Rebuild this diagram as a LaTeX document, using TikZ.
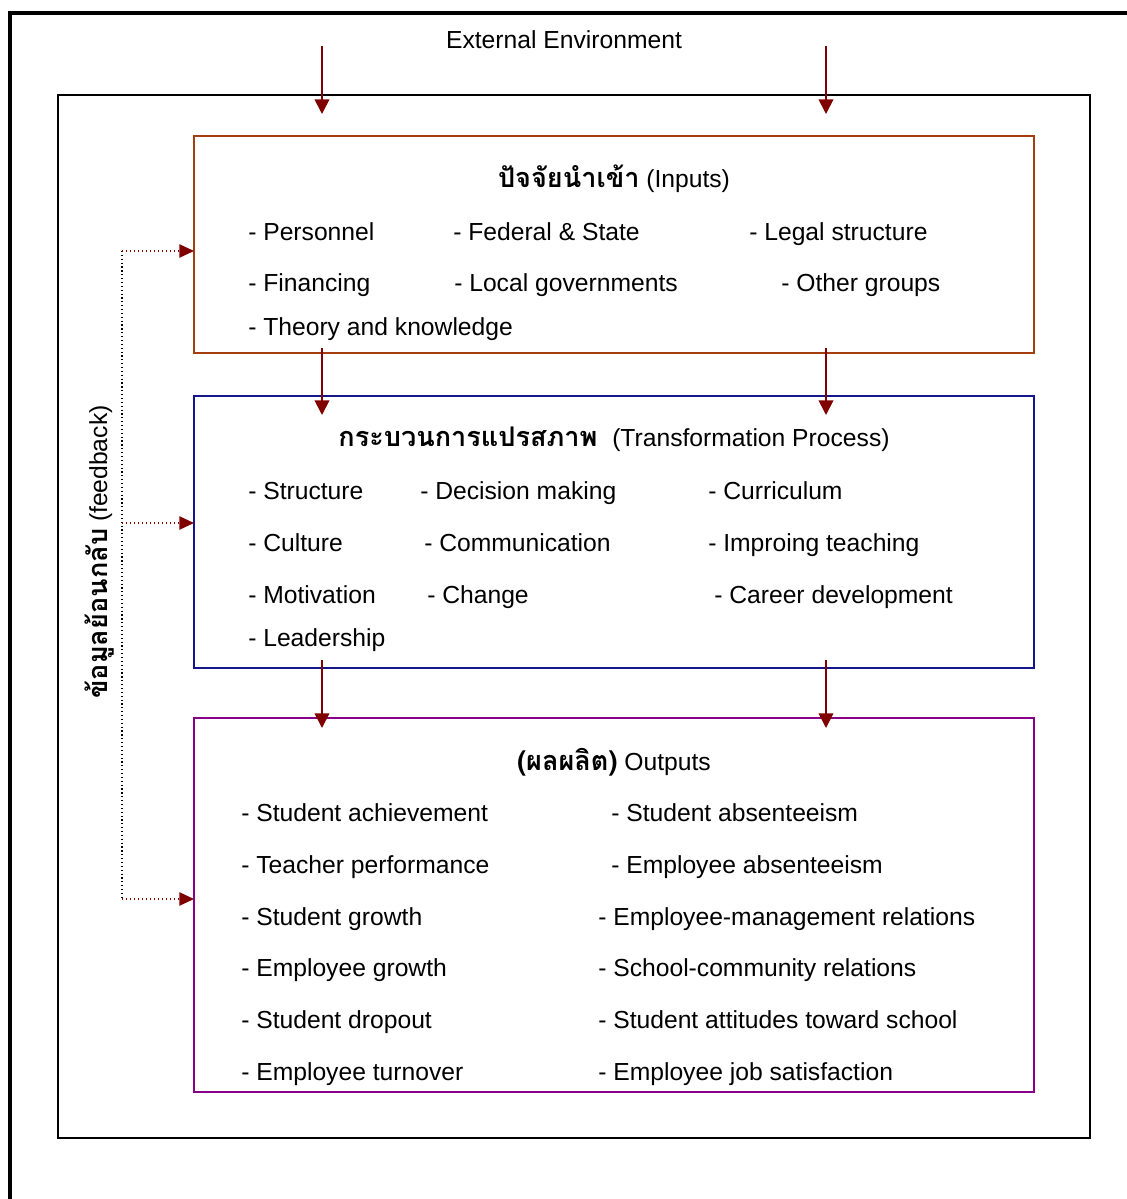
\documentclass[tikz,border=0pt]{standalone}
\usepackage{fontspec}
\setmainfont{Liberation Sans}
\newfontfamily\thaifont[Script=Thai]{Loma}
\usetikzlibrary{arrows.meta}
\definecolor{darkred}{RGB}{128,0,0}
\definecolor{inbrown}{RGB}{165,62,15}
\definecolor{procblue}{RGB}{20,20,140}
\definecolor{outpurple}{RGB}{135,0,135}
\newcommand{\itemfont}{\fontsize{18.5}{22}\selectfont}
\newcommand{\thaititle}{\fontsize{20.3}{24}\selectfont\thaifont\bfseries}
\begin{document}
\begin{tikzpicture}[x=0.75pt,y=-0.75pt,
  itm/.style={anchor=base west, inner sep=0pt, font=\itemfont},
  ttl/.style={anchor=base, inner sep=0pt, font=\itemfont},
  boxframe/.style={draw, line width=1.5pt, inner sep=0pt, outer sep=0pt},
  flow/.style={draw=darkred, line width=1.3pt, -{Triangle[width=11pt,length=11pt]}},
  fbarrow/.style={draw=darkred, dotted, line width=1pt, -{Triangle[width=10pt,length=11pt]}},
  fbline/.style={draw=black, dotted, line width=0.9pt}]
\useasboundingbox (0,0) rectangle (1127,1199);
% outer frame (open to right and bottom)
\draw[line width=3.4pt] (10,1199) -- (10,13) -- (1127,13);
% inner frame
\node[draw, line width=2.2pt, inner sep=0pt, outer sep=0pt, minimum width=1032*0.75pt, minimum height=1043*0.75pt] (env) at (574,616.5) {};
\node[anchor=base, inner sep=0pt, font=\itemfont] (envlabel) at (564,48) {External Environment};
% boxes
\node[boxframe, draw=inbrown, minimum width=840*0.75pt, minimum height=217*0.75pt] (inputs) at (614,244.5) {};
\node[boxframe, draw=procblue, minimum width=840*0.75pt, minimum height=272*0.75pt] (process) at (614,532) {};
\node[boxframe, draw=outpurple, minimum width=840*0.75pt, minimum height=374*0.75pt] (outputs) at (614,905) {};
% titles
\node[ttl] (tin) at (614,187) {{\thaititle ปัจจัยนำเข้า} (Inputs)};
\node[ttl] (tproc) at (614,446) {{\thaititle กระบวนการแปรสภาพ}\hspace{0.6em}(Transformation Process)};
\node[ttl] (tout) at (614,770) {{\thaititle (ผลผลิต)} Outputs};
% input items
\node[itm] (i1) at (248,240) {- Personnel};
\node[itm] (i2) at (453,240) {- Federal \& State};
\node[itm] (i3) at (749,240) {- Legal structure};
\node[itm] (i4) at (248,291) {- Financing};
\node[itm] (i5) at (454,291) {- Local governments};
\node[itm] (i6) at (781,291) {- Other groups};
\node[itm] (i7) at (248,335) {- Theory and knowledge};
% process items
\node[itm] (p1) at (248,499) {- Structure};
\node[itm] (p2) at (420,499) {- Decision making};
\node[itm] (p3) at (708,499) {- Curriculum};
\node[itm] (p4) at (248,551) {- Culture};
\node[itm] (p5) at (424,551) {- Communication};
\node[itm] (p6) at (708,551) {- Improing teaching};
\node[itm] (p7) at (248,603) {- Motivation};
\node[itm] (p8) at (427,603) {- Change};
\node[itm] (p9) at (714,603) {- Career development};
\node[itm] (p10) at (248,646) {- Leadership};
% output items
\node[itm] (o1) at (241,821) {- Student achievement};
\node[itm] (o2) at (611,821) {- Student absenteeism};
\node[itm] (o3) at (241,873) {- Teacher performance};
\node[itm] (o4) at (611,873) {- Employee absenteeism};
\node[itm] (o5) at (241,925) {- Student growth};
\node[itm] (o6) at (598,925) {- Employee-management relations};
\node[itm] (o7) at (241,976) {- Employee growth};
\node[itm] (o8) at (598,976) {- School-community relations};
\node[itm] (o9) at (241,1028) {- Student dropout};
\node[itm] (o10) at (598,1028) {- Student attitudes toward school};
\node[itm] (o11) at (241,1080) {- Employee turnover};
\node[itm] (o12) at (598,1080) {- Employee job satisfaction};
% flow arrows
\coordinate (e1) at (322,46); \coordinate (e1t) at (322,114);
\coordinate (e2) at (826,46); \coordinate (e2t) at (826,114);
\coordinate (a1) at (322,348); \coordinate (a1t) at (322,415);
\coordinate (a2) at (826,348); \coordinate (a2t) at (826,415);
\coordinate (b1) at (322,660); \coordinate (b1t) at (322,728);
\coordinate (b2) at (826,660); \coordinate (b2t) at (826,728);
\draw[flow] (e1) -- (e1t);
\draw[flow] (e2) -- (e2t);
\draw[flow] (a1) -- (a1t);
\draw[flow] (a2) -- (a2t);
\draw[flow] (b1) -- (b1t);
\draw[flow] (b2) -- (b2t);
% feedback
\coordinate (f1) at (122,251);
\coordinate (f2) at (122,523);
\coordinate (f3) at (122,899);
\draw[fbline] (f1) -- (f3);
\draw[fbarrow] (f1) -- (f1 -| inputs.west);
\draw[fbarrow] (f2) -- (f2 -| process.west);
\draw[fbarrow] (f3) -- (f3 -| outputs.west);
\node[rotate=90, anchor=base, inner sep=0pt, font=\itemfont] (fblabel) at (107,552) {{\thaititle ข้อมูลย้อนกลับ} (feedback)};
\end{tikzpicture}
\end{document}
